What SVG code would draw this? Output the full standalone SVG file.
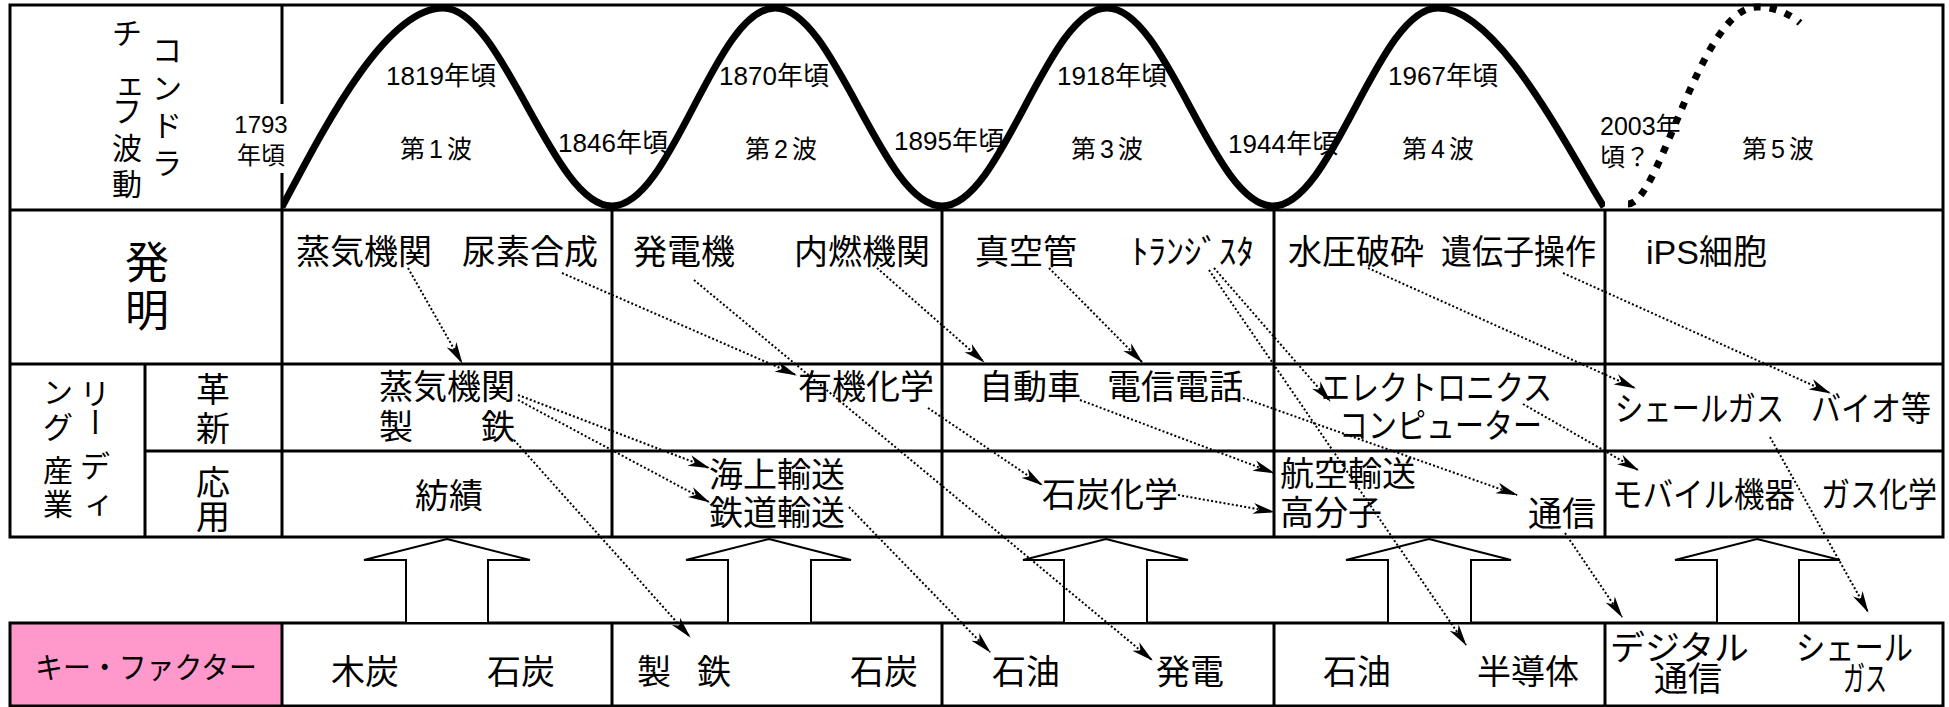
<svg xmlns="http://www.w3.org/2000/svg" width="1949" height="707" viewBox="0 0 1949 707">
<defs>
<style>
.g{stroke:#000;stroke-width:3;fill:none}
.t{font-family:"Liberation Sans","Noto Sans CJK JP",sans-serif;fill:#000}
.c{font-size:34px}
.d{font-size:26px}
.v{font-size:30px;text-anchor:middle}
.m{text-anchor:middle}
.k{stroke:#000;stroke-width:2;stroke-dasharray:2 2.2;fill:none}
.ba{fill:#fff;stroke:#000;stroke-width:2;stroke-linejoin:miter}
.w{fill:none;stroke:#000;stroke-width:7}
</style>
<marker id="ah" markerUnits="userSpaceOnUse" markerWidth="22" markerHeight="12" viewBox="0 0 22 12" refX="21" refY="6" orient="auto">
<path d="M0,0.5 L22,6 L0,11.5 L6,6 Z" fill="#000"/>
</marker>
<clipPath id="wc"><rect x="282" y="-10" width="1323" height="230"/></clipPath>
</defs>
<rect width="1949" height="707" fill="#fff"/>

<g id="grid">
<rect x="10" y="623" width="272" height="83" fill="#FF99CC"/>
<rect class="g" x="10" y="5" width="1933" height="532"/>
<rect class="g" x="10" y="623" width="1933" height="83"/>
<line class="g" x1="10" y1="210" x2="1943" y2="210"/>
<line class="g" x1="10" y1="364" x2="1943" y2="364"/>
<line class="g" x1="145" y1="451" x2="1943" y2="451"/>
<line class="g" x1="282" y1="5" x2="282" y2="537"/>
<line class="g" x1="145" y1="364" x2="145" y2="537"/>
<line class="g" x1="612" y1="210" x2="612" y2="537"/>
<line class="g" x1="942" y1="210" x2="942" y2="537"/>
<line class="g" x1="1274" y1="210" x2="1274" y2="537"/>
<line class="g" x1="1605" y1="210" x2="1605" y2="537"/>
<line class="g" x1="282" y1="623" x2="282" y2="706"/>
<line class="g" x1="612" y1="623" x2="612" y2="706"/>
<line class="g" x1="942" y1="623" x2="942" y2="706"/>
<line class="g" x1="1274" y1="623" x2="1274" y2="706"/>
<line class="g" x1="1605" y1="623" x2="1605" y2="706"/>
</g>

<g id="big-arrows">
<polygon class="ba" points="447,539 530,560 488,560 488,623 406,623 406,560 364,560"/>
<polygon class="ba" points="769,539 851,560 811,560 811,623 728,623 728,560 686,560"/>
<polygon class="ba" points="1106,539 1188,560 1147,560 1147,623 1064,623 1064,560 1023,560"/>
<polygon class="ba" points="1429,539 1511,560 1471,560 1471,623 1388,623 1388,560 1346,560"/>
<polygon class="ba" points="1757,539 1840,560 1799,560 1799,623 1717,623 1717,560 1675,560"/>
</g>

<g id="label-kondratiev">
<text class="t v" x="167" y="61">コ</text>
<text class="t v" x="167" y="99">ン</text>
<text class="t v" x="167" y="136">ド</text>
<text class="t v" x="167" y="174">ラ</text>
<text class="t v" x="127" y="44" font-size="32">チ</text>
<text class="t v" x="130" y="94" font-size="44">ェ</text>
<text class="t v" x="127" y="122" font-size="32">フ</text>
<text class="t v" x="127" y="159" font-size="32">波</text>
<text class="t v" x="127" y="195" font-size="32">動</text>
</g>

<g id="label-invention">
<text class="t m" x="147" y="279" font-size="44">発</text>
<text class="t m" x="147" y="327" font-size="44">明</text>
</g>

<g id="label-leading">
<text class="t v" x="95" y="404">リ</text>
<text class="t v" x="95" y="433" transform="rotate(90 95 422)">ー</text>
<text class="t v" x="95" y="477">デ</text>
<text class="t v" x="99" y="513">ィ</text>
<text class="t v" x="58" y="403">ン</text>
<text class="t v" x="58" y="438">グ</text>
<text class="t v" x="58" y="481">産</text>
<text class="t v" x="58" y="515">業</text>
</g>

<g id="label-innovation">
<text class="t c m" x="213" y="402">革</text>
<text class="t c m" x="213" y="441">新</text>
</g>
<g id="label-application">
<text class="t c m" x="213" y="495">応</text>
<text class="t c m" x="213" y="529">用</text>
</g>

<g id="wave-labels">
<rect x="231" y="104" width="60" height="69" fill="#fff"/>
<text class="t m" x="261" y="133" font-size="24">1793</text>
<text class="t m" x="261" y="164" font-size="24">年頃</text>
<text class="t d m" x="441" y="85">1819年頃</text>
<text class="t d m" x="774" y="85">1870年頃</text>
<text class="t d m" x="1112" y="85">1918年頃</text>
<text class="t d m" x="1443" y="85">1967年頃</text>
<text class="t d m" x="613" y="152">1846年頃</text>
<text class="t d m" x="949" y="150">1895年頃</text>
<text class="t d m" x="1283" y="153">1944年頃</text>
<text class="t m" x="438" y="158" font-size="25" letter-spacing="4">第1波</text>
<text class="t m" x="783" y="158" font-size="25" letter-spacing="4">第2波</text>
<text class="t m" x="1109" y="158" font-size="25" letter-spacing="4">第3波</text>
<text class="t m" x="1440" y="158" font-size="25" letter-spacing="4">第4波</text>
<text class="t m" x="1780" y="158" font-size="25" letter-spacing="4">第5波</text>
<text class="t" x="1600" y="135" font-size="25">2003年</text>
<text class="t" x="1600" y="166" font-size="25">頃？</text>
</g>

<g id="wave">
<path class="w" clip-path="url(#wc)" d="M282,207 C318,140 383,8 443,8 C503,8 552,206 612,206 C672,206 715,8 775,8 C835,8 882,206 942,206 C1002,206 1047,8 1107,8 C1167,8 1213,206 1273,206 C1333,206 1378,8 1438,8 C1498,8 1568,150 1604,207"/>
<path class="w" stroke-dasharray="7 9" d="M1628,204 C1660,204 1700,7 1757,7 C1775,7 1790,14 1800,23"/>
</g>

<g id="inventions">
<text class="t c" x="296" y="264">蒸気機関</text>
<text class="t c" x="462" y="264">尿素合成</text>
<text class="t c" x="633" y="264">発電機</text>
<text class="t c" x="794" y="264">内燃機関</text>
<text class="t c" x="975" y="264">真空管</text>
<text class="t c" x="1131" y="264" textLength="123" lengthAdjust="spacingAndGlyphs">ﾄﾗﾝｼﾞｽﾀ</text>
<text class="t c" x="1288" y="264">水圧破砕</text>
<text class="t c" x="1441" y="264" textLength="155" lengthAdjust="spacingAndGlyphs">遺伝子操作</text>
<text class="t c" x="1646" y="264">iPS細胞</text>
</g>

<g id="innovations">
<text class="t c" x="379" y="399">蒸気機関</text>
<text class="t c" x="379" y="439">製　　鉄</text>
<text class="t c" x="798" y="399">有機化学</text>
<text class="t c" x="979" y="399">自動車</text>
<text class="t c" x="1107" y="399">電信電話</text>
<text class="t c" x="1321" y="400" textLength="231" lengthAdjust="spacingAndGlyphs">エレクトロニクス</text>
<text class="t c" x="1339" y="438" textLength="203" lengthAdjust="spacingAndGlyphs">コンピューター</text>
<text class="t c" x="1615" y="421" textLength="169" lengthAdjust="spacingAndGlyphs">シェールガス</text>
<text class="t c" x="1811" y="421" textLength="120" lengthAdjust="spacingAndGlyphs">バイオ等</text>
</g>

<g id="applications">
<text class="t c" x="415" y="508">紡績</text>
<text class="t c" x="709" y="487">海上輸送</text>
<text class="t c" x="709" y="525">鉄道輸送</text>
<text class="t c" x="1042" y="507">石炭化学</text>
<text class="t c" x="1280" y="486">航空輸送</text>
<text class="t c" x="1280" y="525">高分子</text>
<text class="t c" x="1528" y="526">通信</text>
<text class="t c" x="1612" y="507" textLength="183" lengthAdjust="spacingAndGlyphs">モバイル機器</text>
<text class="t c" x="1821" y="507" textLength="116" lengthAdjust="spacingAndGlyphs">ガス化学</text>
</g>

<g id="key-factors">
<text class="t" x="35" y="678" font-size="30" textLength="222" lengthAdjust="spacingAndGlyphs">キー・ファクター</text>
<text class="t c" x="331" y="684">木炭</text>
<text class="t c" x="487" y="684">石炭</text>
<text class="t c" x="637 680 697" y="684">製 鉄</text>
<text class="t c" x="850" y="684">石炭</text>
<text class="t c" x="992" y="684">石油</text>
<text class="t c" x="1156" y="684">発電</text>
<text class="t c" x="1323" y="684">石油</text>
<text class="t c" x="1477" y="684">半導体</text>
<text class="t c" x="1610" y="660" textLength="139" lengthAdjust="spacingAndGlyphs">デジタル</text>
<text class="t c" x="1654" y="691">通信</text>
<text class="t c" x="1796" y="660" textLength="117" lengthAdjust="spacingAndGlyphs">シェール</text>
<text class="t c" x="1843" y="691" textLength="44" lengthAdjust="spacingAndGlyphs">ガス</text>
</g>

<g id="connectors">
<line class="k" x1="408" y1="268" x2="462" y2="363" marker-end="url(#ah)"/>
<line class="k" x1="562" y1="273" x2="796" y2="375" marker-end="url(#ah)"/>
<line class="k" x1="694" y1="280" x2="1152" y2="660" marker-end="url(#ah)"/>
<line class="k" x1="877" y1="268" x2="984" y2="362" marker-end="url(#ah)"/>
<line class="k" x1="1049" y1="268" x2="1142" y2="362" marker-end="url(#ah)"/>
<line class="k" x1="1214" y1="268" x2="1330" y2="401" marker-end="url(#ah)"/>
<line class="k" x1="1209" y1="270" x2="1466" y2="645" marker-end="url(#ah)"/>
<line class="k" x1="1368" y1="268" x2="1635" y2="388" marker-end="url(#ah)"/>
<line class="k" x1="1563" y1="273" x2="1830" y2="393" marker-end="url(#ah)"/>
<line class="k" x1="518" y1="395" x2="709" y2="468" marker-end="url(#ah)"/>
<line class="k" x1="518" y1="400" x2="709" y2="502" marker-end="url(#ah)"/>
<line class="k" x1="514" y1="440" x2="690" y2="637" marker-end="url(#ah)"/>
<line class="k" x1="849" y1="507" x2="990" y2="652" marker-end="url(#ah)"/>
<line class="k" x1="928" y1="408" x2="1042" y2="485" marker-end="url(#ah)"/>
<line class="k" x1="1080" y1="400" x2="1274" y2="473" marker-end="url(#ah)"/>
<line class="k" x1="1178" y1="495" x2="1274" y2="512" marker-end="url(#ah)"/>
<line class="k" x1="1243" y1="398" x2="1517" y2="495" marker-end="url(#ah)"/>
<line class="k" x1="1523" y1="404" x2="1638" y2="470" marker-end="url(#ah)"/>
<line class="k" x1="1565" y1="533" x2="1622" y2="617" marker-end="url(#ah)"/>
<line class="k" x1="1770" y1="437" x2="1868" y2="612" marker-end="url(#ah)"/>
</g>
</svg>
